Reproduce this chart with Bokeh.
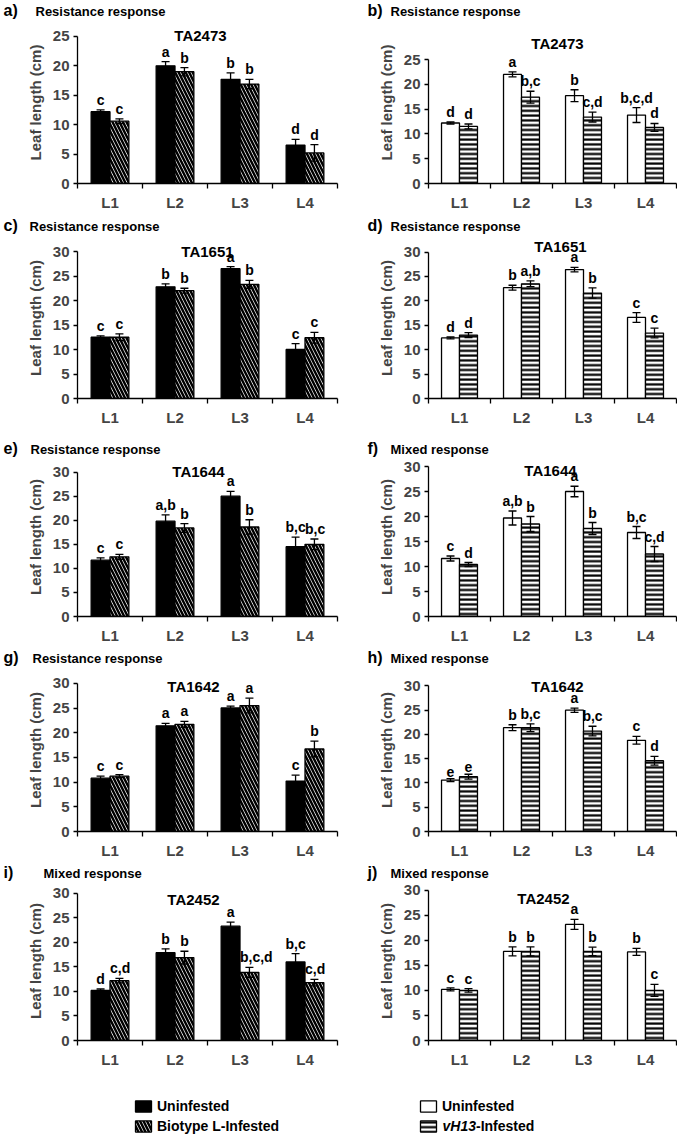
from bokeh.plotting import figure
from bokeh.models import (ColumnDataSource, Whisker, TeeHead, Label, FixedTicker,
                          Range1d, Legend, LegendItem)
from bokeh.layouts import column, row
from bokeh.transform import dodge
from bokeh.embed import file_html
from bokeh.resources import INLINE
from bokeh.core.properties import value

# ---------------- data ----------------
CATEGORIES = ["L1", "L2", "L3", "L4"]
Y_TICKS_25 = [0, 5, 10, 15, 20, 25]
Y_TICKS_30 = [0, 5, 10, 15, 20, 25, 30]
Y_LABEL = "Leaf length (cm)"

# a) TA2473, Biotype L
A_UNINF = [12.2, 20.0, 17.7, 6.5]
A_UNINF_ERR = [0.3, 0.7, 1.1, 1.0]
A_INF = [10.6, 19.0, 16.9, 5.2]
A_INF_ERR = [0.4, 0.7, 0.8, 1.4]
A_LET_UNINF = ["c", "a", "b", "d"]
A_LET_INF = ["c", "b", "b", "d"]

# b) TA2473, vH13
B_UNINF = [12.2, 22.0, 17.7, 13.8]
B_UNINF_ERR = [0.2, 0.5, 1.2, 1.5]
B_INF = [11.5, 17.4, 13.4, 11.3]
B_INF_ERR = [0.5, 1.2, 1.0, 0.8]
B_LET_UNINF = ["d", "a", "b", "b,c,d"]
B_LET_INF = ["d", "b,c", "c,d", "d"]

# c) TA1651, Biotype L
C_UNINF = [12.5, 22.8, 26.5, 10.0]
C_UNINF_ERR = [0.3, 0.6, 0.4, 1.2]
C_INF = [12.5, 22.0, 23.3, 12.4]
C_INF_ERR = [0.7, 0.5, 0.8, 1.1]
C_LET_UNINF = ["c", "b", "a", "c"]
C_LET_INF = ["c", "b", "b", "c"]

# d) TA1651, vH13
D_UNINF = [12.4, 22.7, 26.4, 16.6]
D_UNINF_ERR = [0.2, 0.5, 0.45, 1.0]
D_INF = [13.0, 23.5, 21.6, 13.4]
D_INF_ERR = [0.5, 0.6, 1.05, 1.0]
D_LET_UNINF = ["d", "b", "a", "c"]
D_LET_INF = ["d", "a,b", "b", "c"]

# e) TA1644, Biotype L
E_UNINF = [11.7, 19.8, 25.0, 14.5]
E_UNINF_ERR = [0.5, 1.3, 1.0, 2.0]
E_INF = [12.4, 18.4, 18.6, 15.0]
E_INF_ERR = [0.5, 0.9, 1.5, 1.1]
E_LET_UNINF = ["c", "a,b", "a", "b,c"]
E_LET_INF = ["c", "b", "b", "b,c"]

# f) TA1644, vH13
F_UNINF = [11.6, 19.7, 25.0, 16.8]
F_UNINF_ERR = [0.5, 1.4, 1.05, 1.2]
F_INF = [10.4, 18.5, 17.6, 12.5]
F_INF_ERR = [0.4, 1.5, 1.2, 1.5]
F_LET_UNINF = ["c", "a,b", "a", "b,c"]
F_LET_INF = ["d", "b", "b", "c,d"]

# g) TA1642, Biotype L
G_UNINF = [10.8, 21.4, 25.0, 10.2]
G_UNINF_ERR = [0.4, 0.5, 0.4, 1.2]
G_INF = [11.2, 21.7, 25.5, 16.7]
G_INF_ERR = [0.3, 0.6, 1.5, 1.6]
G_LET_UNINF = ["c", "a", "a", "c"]
G_LET_INF = ["c", "a", "a", "b"]

# h) TA1642, vH13
H_UNINF = [10.6, 21.4, 25.0, 18.8]
H_UNINF_ERR = [0.3, 0.6, 0.45, 0.8]
H_INF = [11.3, 21.4, 20.7, 14.6]
H_INF_ERR = [0.5, 0.8, 1.0, 0.9]
H_LET_UNINF = ["e", "b", "a", "c"]
H_LET_INF = ["e", "b,c", "b,c", "d"]

# i) TA2452, Biotype L
I_UNINF = [10.2, 17.9, 23.3, 16.0]
I_UNINF_ERR = [0.3, 0.8, 0.85, 1.7]
I_INF = [12.2, 16.9, 13.9, 11.8]
I_INF_ERR = [0.45, 1.3, 1.0, 0.65]
I_LET_UNINF = ["d", "b", "a", "b,c"]
I_LET_INF = ["c,d", "b", "b,c,d", "c,d"]

# j) TA2452, vH13
J_UNINF = [10.2, 17.8, 23.2, 17.7]
J_UNINF_ERR = [0.3, 0.9, 1.0, 0.7]
J_INF = [10.0, 17.8, 17.8, 10.0]
J_INF_ERR = [0.35, 0.9, 0.85, 1.2]
J_LET_UNINF = ["c", "b", "a", "b"]
J_LET_INF = ["c", "b", "b", "c"]

HEADERS_LEFT = [("a)", "Resistance response"), ("c)", "Resistance response"),
                ("e)", "Resistance response"), ("g)", "Resistance response"),
                ("i)", "Mixed response")]
HEADERS_RIGHT = [("b)", "Resistance response"), ("d)", "Resistance response"),
                 ("f)", "Mixed response"), ("h)", "Mixed response"),
                 ("j)", "Mixed response")]
TITLES = ["TA2473", "TA1651", "TA1644", "TA1642", "TA2452"]

LEGEND_LEFT = ["Uninfested", "Biotype L-Infested"]
LEGEND_RIGHT = ["Uninfested", "vH13", "-Infested"]

# ---------------- style / geometry ----------------
FONT = "Liberation Sans"
BAR_W = 0.29
LW = 1.3
LEFT_W, RIGHT_W = 340, 337
TOTAL_W = LEFT_W + RIGHT_W
LEFT_BL, LEFT_BR = 77, 3
RIGHT_BL, RIGHT_BR = 88, 1

# (strip top, strip height, text centre y in strip, left text x, panel row height)
ROWS = [(0, 21, 10, 35, 194), (215, 22, 10, 29, 198), (435, 22, 13, 30, 190),
        (647, 21, 10, 32, 193), (861, 20, 11, 43, 189)]
# per panel: (axis top y, axis bottom y, title sx, title sy)
GEOM_LEFT = [(36, 184, 123, 148), (251, 398, 130, 147), (472, 620, 121, 145),
             (683, 833, 116, 145), (893, 1042, 116, 141)]
GEOM_RIGHT = [(59, 183, 129, 140), (252, 403, 132, 152), (466, 616, 122, 146),
              (686, 836, 129, 145), (890, 1042, 115, 142)]


def bare_fig(w, h):
    f = figure(width=w, height=h, x_range=Range1d(0, w), y_range=Range1d(h, 0),
               output_backend="svg", toolbar_location=None, tools="",
               min_border=0, min_border_left=0, min_border_right=0,
               min_border_top=0, min_border_bottom=0, outline_line_color=None)
    f.axis.visible = False
    f.grid.visible = False
    return f


def make_strip(ri):
    top, hs, yc, ltx, _ = ROWS[ri]
    s = bare_fig(TOTAL_W, hs)
    lt, ltxt = HEADERS_LEFT[ri]
    rt, rtxt = HEADERS_RIGHT[ri]
    s.text(x=[3, 367], y=[yc, yc], text=[lt, rt], text_baseline="middle",
           text_font=value(FONT), text_font_style="bold", text_font_size="16px",
           text_color="black")
    s.text(x=[ltx, 390], y=[yc + 1, yc + 1], text=[ltxt, rtxt], text_baseline="middle",
           text_font=value(FONT), text_font_style="bold", text_font_size="13px",
           text_color="black")
    return s


def make_panel(side, ri, ymax, yticks, u, ue, inf, ie, lu, li):
    row_top = ROWS[ri][0] + ROWS[ri][1]
    height = ROWS[ri][4]
    g = GEOM_LEFT[ri] if side == "left" else GEOM_RIGHT[ri]
    ax_top, ax_bot, tsx, tsy = g
    frame_h = ax_bot - row_top
    y_end = ymax * frame_h / (ax_bot - ax_top)
    w = LEFT_W if side == "left" else RIGHT_W
    bl = LEFT_BL if side == "left" else RIGHT_BL
    br = LEFT_BR if side == "left" else RIGHT_BR
    p = figure(width=w, height=height, x_range=Range1d(-0.5, 3.5),
               y_range=Range1d(0, y_end), output_backend="svg",
               toolbar_location=None, tools="",
               min_border_left=bl, min_border_right=br,
               min_border_top=0, min_border_bottom=height - frame_h,
               outline_line_color=None)
    p.xgrid.visible = False
    p.ygrid.visible = False

    xs = list(range(len(CATEGORIES)))
    half = BAR_W / 2
    # labels over the hatched bars of the left panels: long ones start at the bar's left edge
    if side == "left":
        li_x = [x if len(t) > 1 else x + half for x, t in zip(xs, li)]
        li_al = ["left" if len(t) > 1 else "center" for t in li]
    else:
        li_x = [x + half for x in xs]
        li_al = ["center"] * len(xs)
    src_u = ColumnDataSource(dict(x=xs, top=u,
                                  upper=[a + b for a, b in zip(u, ue)],
                                  lower=[a - b for a, b in zip(u, ue)], let=lu,
                                  lx=[x - half for x in xs], al=["center"] * len(xs)))
    src_i = ColumnDataSource(dict(x=xs, top=inf,
                                  upper=[a + b for a, b in zip(inf, ie)],
                                  lower=[a - b for a, b in zip(inf, ie)], let=li,
                                  lx=li_x, al=li_al))
    if side == "left":
        st_u = dict(fill_color="black", line_color="black")
        st_i = dict(fill_color="white", line_color="black", hatch_pattern="\\",
                    hatch_color="black", hatch_scale=7, hatch_weight=2.5)
    else:
        st_u = dict(fill_color="white", line_color="black")
        st_i = dict(fill_color="white", line_color="black", hatch_pattern="-",
                    hatch_color="black", hatch_scale=4.8, hatch_weight=2.2)

    for src, off, st in ((src_u, -half, st_u), (src_i, half, st_i)):
        p.vbar(x=dodge("x", off), top="top", bottom=0, width=BAR_W, source=src,
               line_width=LW, **st)
        wk = Whisker(source=src, base=dodge("x", off), upper="upper", lower="lower",
                     line_color="black", line_width=LW, level="overlay",
                     upper_head=TeeHead(size=8, line_color="black", line_width=LW),
                     lower_head=TeeHead(size=8, line_color="black", line_width=LW))
        p.add_layout(wk)
    for src in (src_u, src_i):
        p.text(x="lx", y="upper", text="let", source=src,
               text_align="al", text_baseline="bottom", y_offset=-2,
               text_font=value(FONT), text_font_style="bold",
               text_font_size="14px", text_color="black")

    # y axis
    ya = p.yaxis[0]
    ya.ticker = FixedTicker(ticks=yticks)
    ya.bounds = (0, ymax)
    ya.axis_label = Y_LABEL
    ya.axis_label_text_font = FONT
    ya.axis_label_text_font_style = "bold"
    ya.axis_label_text_font_size = "15px"
    ya.axis_label_standoff = 6
    ya.major_label_text_font = FONT
    ya.major_label_text_font_style = "bold"
    ya.major_label_text_font_size = "15px"
    ya.major_label_standoff = 4
    ya.major_tick_out = 4
    ya.major_tick_in = 0
    ya.minor_tick_line_color = None
    ya.axis_line_width = LW
    ya.major_tick_line_width = LW

    # x axis
    xa = p.xaxis[0]
    xa.ticker = FixedTicker(ticks=xs, minor_ticks=[-0.5, 0.5, 1.5, 2.5, 3.5])
    xa.major_label_overrides = {i: c for i, c in enumerate(CATEGORIES)}
    xa.major_tick_line_color = None
    xa.major_tick_out = 0
    xa.major_tick_in = 0
    xa.minor_tick_out = 5
    xa.minor_tick_in = 0
    xa.minor_tick_line_width = LW
    xa.axis_line_width = LW
    xa.major_label_text_font = FONT
    xa.major_label_text_font_style = "bold"
    xa.major_label_text_font_size = "15px"
    xa.major_label_standoff = 5

    p.add_layout(Label(x=tsx, y=tsy, x_units="screen", y_units="screen",
                       text=TITLES[ri], text_align="center", text_baseline="middle",
                       text_font=FONT, text_font_style="bold", text_font_size="15px",
                       text_color="black"))
    return p


pa = make_panel("left", 0, 25, Y_TICKS_25, A_UNINF, A_UNINF_ERR, A_INF, A_INF_ERR, A_LET_UNINF, A_LET_INF)
pb = make_panel("right", 0, 25, Y_TICKS_25, B_UNINF, B_UNINF_ERR, B_INF, B_INF_ERR, B_LET_UNINF, B_LET_INF)
pc = make_panel("left", 1, 30, Y_TICKS_30, C_UNINF, C_UNINF_ERR, C_INF, C_INF_ERR, C_LET_UNINF, C_LET_INF)
pd = make_panel("right", 1, 30, Y_TICKS_30, D_UNINF, D_UNINF_ERR, D_INF, D_INF_ERR, D_LET_UNINF, D_LET_INF)
pe = make_panel("left", 2, 30, Y_TICKS_30, E_UNINF, E_UNINF_ERR, E_INF, E_INF_ERR, E_LET_UNINF, E_LET_INF)
pf = make_panel("right", 2, 30, Y_TICKS_30, F_UNINF, F_UNINF_ERR, F_INF, F_INF_ERR, F_LET_UNINF, F_LET_INF)
pg = make_panel("left", 3, 30, Y_TICKS_30, G_UNINF, G_UNINF_ERR, G_INF, G_INF_ERR, G_LET_UNINF, G_LET_INF)
ph = make_panel("right", 3, 30, Y_TICKS_30, H_UNINF, H_UNINF_ERR, H_INF, H_INF_ERR, H_LET_UNINF, H_LET_INF)
pi = make_panel("left", 4, 30, Y_TICKS_30, I_UNINF, I_UNINF_ERR, I_INF, I_INF_ERR, I_LET_UNINF, I_LET_INF)
pj = make_panel("right", 4, 30, Y_TICKS_30, J_UNINF, J_UNINF_ERR, J_INF, J_INF_ERR, J_LET_UNINF, J_LET_INF)

# ---------------- legend strip ----------------
LEG_H = 64
pl = bare_fig(TOTAL_W, LEG_H)
nan = float("nan")


def proxy(**kw):
    return pl.vbar(x="x", top="top", width=1, source=ColumnDataSource(dict(x=[nan], top=[nan])),
                   line_width=LW, line_color="black", **kw)


r1 = proxy(fill_color="black")
r2 = proxy(fill_color="white", hatch_pattern="\\", hatch_color="black", hatch_scale=7, hatch_weight=2.5)
r3 = proxy(fill_color="white")
r4 = proxy(fill_color="white", hatch_pattern="-", hatch_color="black", hatch_scale=4.8, hatch_weight=2.2)


def make_legend(items, loc):
    return Legend(items=items, location=loc, orientation="vertical",
                  border_line_color=None, background_fill_alpha=0,
                  padding=0, margin=0, spacing=3, glyph_width=20, glyph_height=14,
                  label_height=17, label_standoff=4, label_text_font=FONT,
                  label_text_font_style="bold", label_text_font_size="14px",
                  label_text_color="black")


pl.add_layout(make_legend([LegendItem(label=LEGEND_LEFT[0], renderers=[r1]),
                           LegendItem(label=LEGEND_LEFT[1], renderers=[r2])], (133, 0)))
pl.add_layout(make_legend([LegendItem(label=LEGEND_RIGHT[0], renderers=[r3]),
                           LegendItem(label=" ", renderers=[r4])], (418, 0)))
pl.text(x=[442], y=[55], text=[LEGEND_RIGHT[1]], text_baseline="middle",
        text_font=value(FONT), text_font_style="bold italic", text_font_size="14px",
        text_color="black")
pl.text(x=[475.5], y=[55], text=[LEGEND_RIGHT[2]], text_baseline="middle",
        text_font=value(FONT), text_font_style="bold", text_font_size="14px",
        text_color="black")

layout = column(make_strip(0), row(pa, pb), make_strip(1), row(pc, pd),
                make_strip(2), row(pe, pf), make_strip(3), row(pg, ph),
                make_strip(4), row(pi, pj), pl)

open("out.html", "w").write(file_html(layout, INLINE))
